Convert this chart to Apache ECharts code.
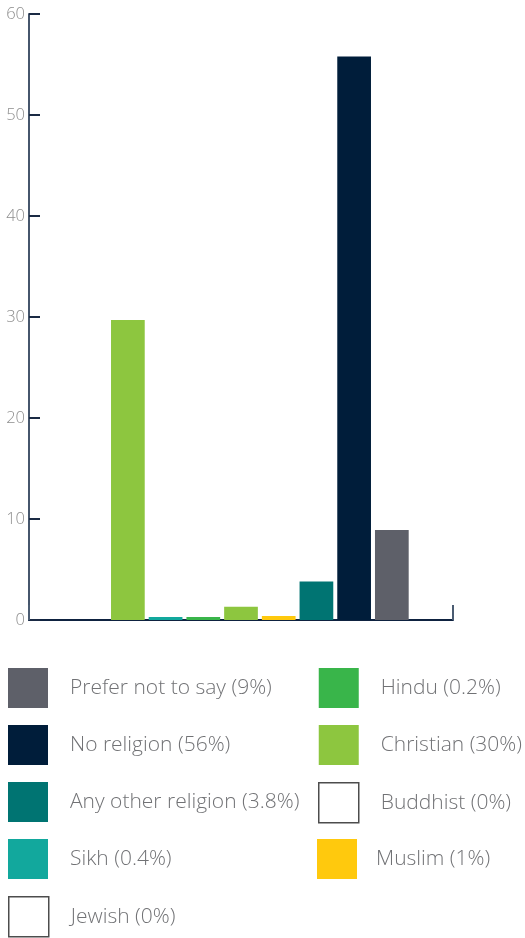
<!DOCTYPE html>
<html>
<head>
<meta charset="utf-8">
<script src="https://cdn.jsdelivr.net/npm/echarts@6/dist/echarts.min.js"></script>
<style>
  html, body { margin: 0; padding: 0; background: #ffffff; }
  #chart { width: 525px; height: 938px; }
</style>
</head>
<body>
<div id="chart"></div>
<script>
// ---- data ----
const slots = ['Jewish', 'Buddhist', 'Christian', 'Sikh', 'Hindu', 'Christian (b)', 'Muslim', 'Any other religion', 'No religion', 'Prefer not to say', ''];
const yTicks = [0, 10, 20, 30, 40, 50, 60];

const legendLeft = ['Prefer not to say (9%)', 'No religion (56%)', 'Any other religion (3.8%)', 'Sikh (0.4%)'];
const legendJewish = ['Jewish (0%)'];
const legendRight = ['Hindu (0.2%)', 'Christian (30%)', 'Buddhist (0%)'];
const legendMuslim = ['Muslim (1%)'];

// each series: values per slot ('-' = no bar)
const preferValues    = ['-', '-', '-', '-', '-', '-', '-', '-', '-', 8.9, '-'];
const noReligionVals  = ['-', '-', '-', '-', '-', '-', '-', '-', 55.8, '-', '-'];
const anyOtherValues  = ['-', '-', '-', '-', '-', '-', '-', 3.8, '-', '-', '-'];
const sikhValues      = ['-', '-', '-', 0.3, '-', '-', '-', '-', '-', '-', '-'];
const jewishValues    = [0, '-', '-', '-', '-', '-', '-', '-', '-', '-', '-'];
const hinduValues     = ['-', '-', '-', '-', 0.3, '-', '-', '-', '-', '-', '-'];
const christianValues = ['-', '-', 29.7, '-', '-', 1.3, '-', '-', '-', '-', '-'];
const buddhistValues  = ['-', 0, '-', '-', '-', '-', '-', '-', '-', '-', '-'];
const muslimValues    = ['-', '-', '-', '-', '-', '-', 0.4, '-', '-', '-', '-'];

const seriesDefs = [
  { name: 'Prefer not to say (9%)', color: '#5e6069', values: preferValues },
  { name: 'No religion (56%)', color: '#001d3a', values: noReligionVals },
  { name: 'Any other religion (3.8%)', color: '#007472', values: anyOtherValues },
  { name: 'Sikh (0.4%)', color: '#12a89d', values: sikhValues },
  { name: 'Jewish (0%)', color: '#ffffff', values: jewishValues, outline: true },
  { name: 'Hindu (0.2%)', color: '#39b54a', values: hinduValues },
  { name: 'Christian (30%)', color: '#8dc63f', values: christianValues },
  { name: 'Buddhist (0%)', color: '#ffffff', values: buddhistValues, outline: true },
  { name: 'Muslim (1%)', color: '#ffc90d', values: muslimValues }
];

const FONT = "'Open Sans', 'Noto Sans', sans-serif";

function legendItems(names) {
  return names.map(n => {
    const d = seriesDefs.find(s => s.name === n);
    return d.outline
      ? { name: n, itemStyle: { color: '#ffffff', borderColor: '#4d4d4d', borderWidth: 1.5 } }
      : { name: n, itemStyle: { color: d.color } };
  });
}

const legendText = { color: '#717275', fontSize: 21, fontFamily: FONT, fontWeight: 300 };

function makeLegend(left, top, names, textPad) {
  return {
    orient: 'vertical', left: left, top: top, padding: 0,
    itemWidth: 40, itemHeight: 40, itemGap: 17,
    icon: 'rect', selectedMode: false,
    textStyle: Object.assign({}, legendText, { padding: [3, 0, 0, textPad] }),
    data: legendItems(names)
  };
}

const chart = echarts.init(document.getElementById('chart'), null, { renderer: 'canvas' });
chart.setOption({
  animation: false,
  backgroundColor: '#ffffff',
  grid: [
    { left: 29, right: 72, top: 14, bottom: 318 },
    { left: 33.6, right: 76.6, top: 14, bottom: 318 }
  ],
  xAxis: [
    {
      gridIndex: 0, type: 'value', min: 0, max: 1, interval: 1,
      axisLine: { show: true, lineStyle: { color: '#0e2240', width: 2 } },
      axisTick: { show: true, inside: true, length: 15, lineStyle: { color: '#4b5c72', width: 2 } },
      axisLabel: { show: false }, splitLine: { show: false }
    },
    {
      gridIndex: 1, type: 'category', data: slots, show: false
    }
  ],
  yAxis: [
    {
      gridIndex: 0, type: 'value', min: 0, max: 60, interval: 10,
      axisLine: { show: true, lineStyle: { color: '#46566c', width: 2 } },
      axisTick: { show: true, inside: true, length: 11, lineStyle: { color: '#1a2a44', width: 2 } },
      axisLabel: { color: '#8e8e8e', fontSize: 16.5, fontFamily: FONT, fontWeight: 300, margin: 4 },
      splitLine: { show: false }
    },
    { gridIndex: 1, type: 'value', min: 0, max: 60, show: false }
  ],
  legend: [
    makeLegend(8, 668, legendLeft, 17),
    makeLegend(8, 896, legendJewish, 17),
    makeLegend(318, 668, legendRight, 17),
    makeLegend(317, 839, legendMuslim, 14)
  ],
  series: seriesDefs.map(d => ({
    name: d.name,
    type: 'bar',
    xAxisIndex: 1, yAxisIndex: 1,
    stack: 'all',
    barCategoryGap: '10.6%',
    itemStyle: { color: d.color },
    data: d.values
  }))
});
</script>
</body>
</html>
